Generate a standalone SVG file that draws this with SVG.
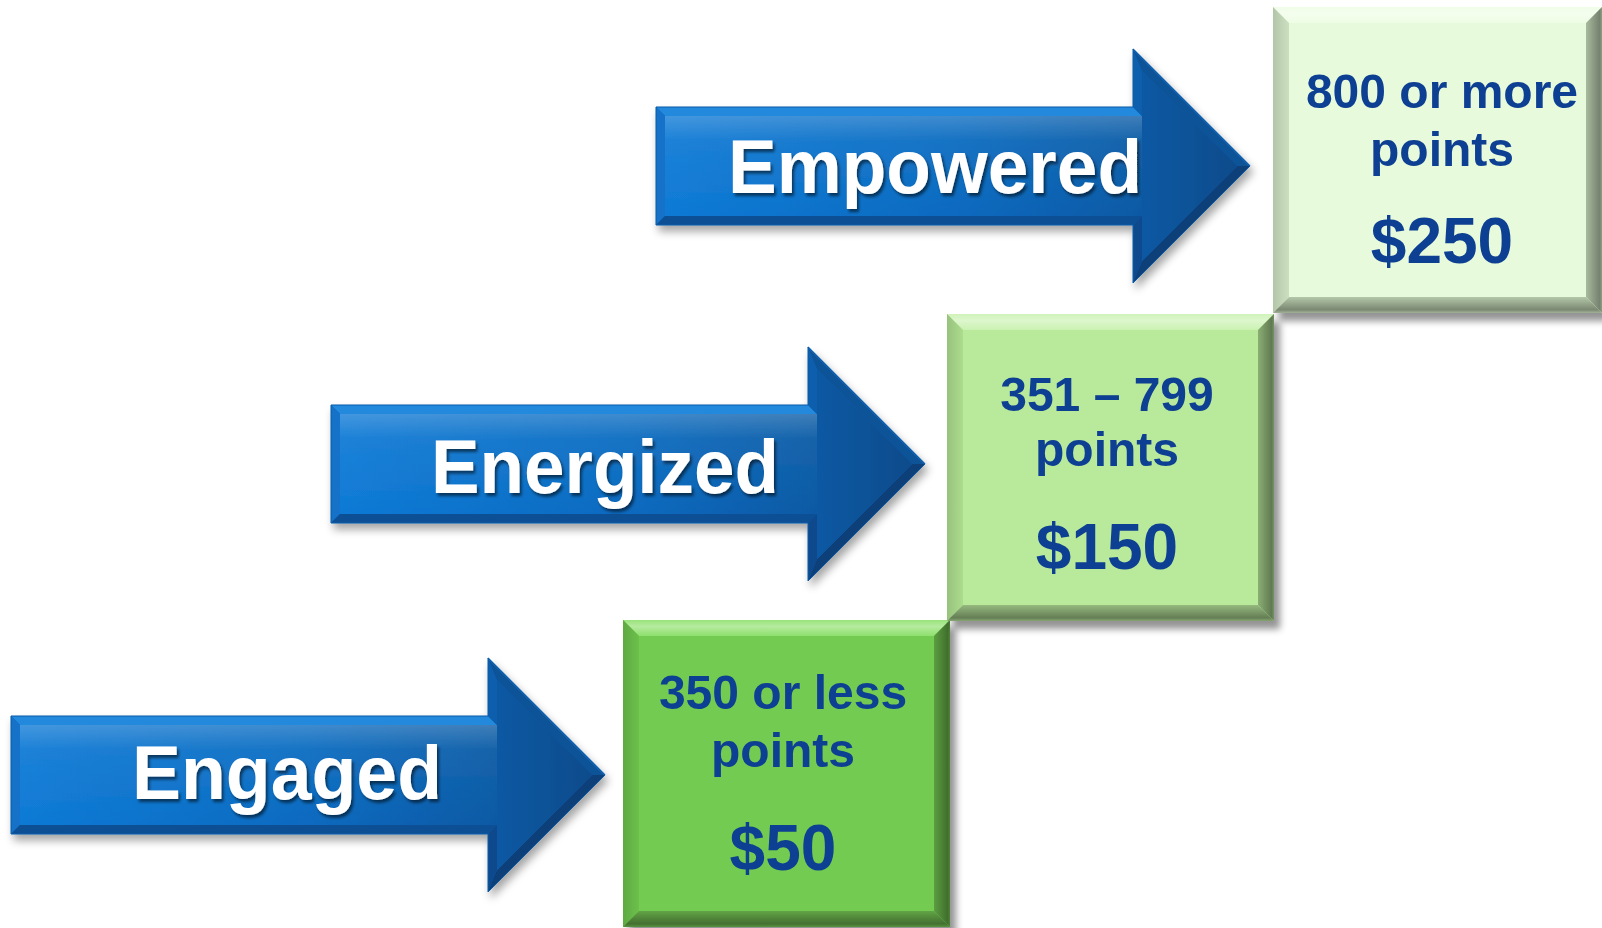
<svg xmlns="http://www.w3.org/2000/svg" width="1602" height="928" viewBox="0 0 1602 928">
<defs>
  <style>
    .atext { font-family: "Liberation Sans", Arial, sans-serif; font-weight: bold; font-size: 76px; fill: #ffffff; }
    .btext { font-family: "Liberation Sans", Arial, sans-serif; font-weight: bold; font-size: 48px; fill: #0F3F92; text-anchor: middle; }
    .bprice { font-family: "Liberation Sans", Arial, sans-serif; font-weight: bold; font-size: 64px; fill: #0F3F92; text-anchor: middle; }
    .shR { fill: url(#darkR); }
    .shB { fill: url(#darkB); }
    .shL { fill: url(#darkL); }
    .hiT { fill: url(#lightT); }
  </style>
  <linearGradient id="arrowFace" x1="0" y1="0" x2="594" y2="0" gradientUnits="userSpaceOnUse">
    <stop offset="0" stop-color="#0E7AD6"/>
    <stop offset="0.5" stop-color="#086AC0"/>
    <stop offset="0.8" stop-color="#085AA6"/>
    <stop offset="1" stop-color="#0A4A88"/>
  </linearGradient>
  <linearGradient id="arrowGloss" x1="0" y1="-50" x2="0" y2="50" gradientUnits="userSpaceOnUse">
    <stop offset="0" stop-color="#ffffff" stop-opacity="0.22"/>
    <stop offset="0.25" stop-color="#ffffff" stop-opacity="0.06"/>
    <stop offset="1" stop-color="#ffffff" stop-opacity="0"/>
  </linearGradient>
  <linearGradient id="darkR" x1="0" y1="0" x2="1" y2="0">
    <stop offset="0" stop-color="#000" stop-opacity="0"/>
    <stop offset="0.85" stop-color="#000" stop-opacity="0.3"/>
    <stop offset="1" stop-color="#000" stop-opacity="0.15"/>
  </linearGradient>
  <linearGradient id="darkB" x1="0" y1="0" x2="0" y2="1">
    <stop offset="0" stop-color="#000" stop-opacity="0"/>
    <stop offset="0.8" stop-color="#000" stop-opacity="0.32"/>
    <stop offset="1" stop-color="#000" stop-opacity="0.1"/>
  </linearGradient>
  <linearGradient id="darkL" x1="1" y1="0" x2="0" y2="0">
    <stop offset="0" stop-color="#000" stop-opacity="0"/>
    <stop offset="1" stop-color="#000" stop-opacity="0.12"/>
  </linearGradient>
  <linearGradient id="lightT" x1="0" y1="1" x2="0" y2="0">
    <stop offset="0" stop-color="#fff" stop-opacity="0"/>
    <stop offset="0.6" stop-color="#fff" stop-opacity="0.35"/>
    <stop offset="1" stop-color="#fff" stop-opacity="0.1"/>
  </linearGradient>
  <filter id="shadow" x="-10%" y="-10%" width="125%" height="130%">
    <feDropShadow dx="3" dy="6" stdDeviation="4" flood-color="#000" flood-opacity="0.35"/>
  </filter>
  <filter id="boxShadow" x="-10%" y="-10%" width="125%" height="125%">
    <feDropShadow dx="6" dy="8" stdDeviation="3.5" flood-color="#000" flood-opacity="0.42"/>
  </filter>
  <filter id="textShadow" x="-5%" y="-20%" width="115%" height="150%">
    <feDropShadow dx="2" dy="3" stdDeviation="1.5" flood-color="#000" flood-opacity="0.55"/>
  </filter>
  <g id="arrowShape">
    <polygon points="0,-59 477,-59 477,-117 594,0 477,117 477,59 0,59" fill="#0A5AAE"/>
    <polygon points="0,-59 477,-59 486,-50 9,-50" fill="#2289DC"/>
    <polygon points="0,-59 9,-50 9,50 0,59" fill="#1272C8"/>
    <polygon points="0,59 9,50 486,50 477,59" fill="#0A4F94"/>
    <polygon points="477,-117 486,-95.3 486,-50 477,-59" fill="#0C5FAE"/>
    <polygon points="477,-117 594,0 581.3,0 486,-95.3" fill="#0B5298"/>
    <polygon points="594,0 477,117 486,95.3 581.3,0" fill="#083F78"/>
    <polygon points="477,117 477,59 486,50 486,95.3" fill="#094A8C"/>
    <polygon points="9,-50 486,-50 486,-95.3 581.3,0 486,95.3 486,50 9,50" fill="url(#arrowFace)"/>
    <polygon points="9,-50 486,-50 486,50 9,50" fill="url(#arrowGloss)"/>
    <polyline points="477,-117 594,0" fill="none" stroke="#1C6FC0" stroke-width="1.5"/>
    <polygon points="0,-59 477,-59 477,-117 594,0 477,117 477,59 0,59" fill="none" stroke="#0B5BA8" stroke-width="1"/>
  </g>
</defs>
<rect width="1602" height="928" fill="#ffffff"/>

<g id="box-engaged" filter="url(#boxShadow)">
  <rect x="623" y="620" width="327" height="307" fill="#73CB51"/>
  <polygon points="623,620 950,620 934,636 639,636" fill="#8EE06C"/>
  <polygon class="hiT" points="623,620 950,620 934,636 639,636"/>
  <polygon points="623,620 639,636 639,911 623,927" fill="#6CC04B"/>
  <polygon class="shL" points="623,620 639,636 639,911 623,927"/>
  <polygon points="950,620 950,927 934,911 934,636" fill="#5C9E41"/>
  <polygon class="shR" points="950,620 950,927 934,911 934,636"/>
  <polygon points="623,927 639,911 934,911 950,927" fill="#62A446"/>
  <polygon class="shB" points="623,927 639,911 934,911 950,927"/>
  <text class="btext" x="783" y="709">350 or less</text>
  <text class="btext" x="783" y="767">points</text>
  <text class="bprice" x="783" y="870">$50</text>
</g>

<g id="box-energized" filter="url(#boxShadow)">
  <rect x="947" y="314" width="327" height="307" fill="#B9E99B"/>
  <polygon points="947,314 1274,314 1258,330 963,330" fill="#CBF2B2"/>
  <polygon class="hiT" points="947,314 1274,314 1258,330 963,330"/>
  <polygon points="947,314 963,330 963,605 947,621" fill="#ACDC8E"/>
  <polygon class="shL" points="947,314 963,330 963,605 947,621"/>
  <polygon points="1274,314 1274,621 1258,605 1258,330" fill="#8AAE74"/>
  <polygon class="shR" points="1274,314 1274,621 1258,605 1258,330"/>
  <polygon points="947,621 963,605 1258,605 1274,621" fill="#95B97E"/>
  <polygon class="shB" points="947,621 963,605 1258,605 1274,621"/>
  <text class="btext" x="1107" y="411">351 – 799</text>
  <text class="btext" x="1107" y="466">points</text>
  <text class="bprice" x="1107" y="569">$150</text>
</g>

<g id="box-empowered" filter="url(#boxShadow)">
  <rect x="1273" y="7" width="329" height="306" fill="#E7FADB"/>
  <polygon points="1273,7 1602,7 1586,23 1289,23" fill="#EEFDE5"/>
  <polygon class="hiT" points="1273,7 1602,7 1586,23 1289,23"/>
  <polygon points="1273,7 1289,23 1289,297 1273,313" fill="#CCE0C0"/>
  <polygon class="shL" points="1273,7 1289,23 1289,297 1273,313"/>
  <polygon points="1602,7 1602,313 1586,297 1586,23" fill="#A8BA9E"/>
  <polygon class="shR" points="1602,7 1602,313 1586,297 1586,23"/>
  <polygon points="1273,313 1289,297 1586,297 1602,313" fill="#B4C7A8"/>
  <polygon class="shB" points="1273,313 1289,297 1586,297 1602,313"/>
  <text class="btext" x="1442" y="108">800 or more</text>
  <text class="btext" x="1442" y="166">points</text>
  <text class="bprice" x="1442" y="263">$250</text>
</g>

<g id="arrow-engaged">
  <use href="#arrowShape" transform="translate(11,775)" filter="url(#shadow)"/>
  <text class="atext" x="132" y="799" textLength="310" lengthAdjust="spacingAndGlyphs" filter="url(#textShadow)">Engaged</text>
</g>

<g id="arrow-energized">
  <use href="#arrowShape" transform="translate(331,464)" filter="url(#shadow)"/>
  <text class="atext" x="431" y="493" textLength="348" lengthAdjust="spacingAndGlyphs" filter="url(#textShadow)">Energized</text>
</g>

<g id="arrow-empowered">
  <use href="#arrowShape" transform="translate(656,166)" filter="url(#shadow)"/>
  <text class="atext" x="728" y="193" textLength="414" lengthAdjust="spacingAndGlyphs" filter="url(#textShadow)">Empowered</text>
</g>

<g id="connectors"></g>
</svg>
